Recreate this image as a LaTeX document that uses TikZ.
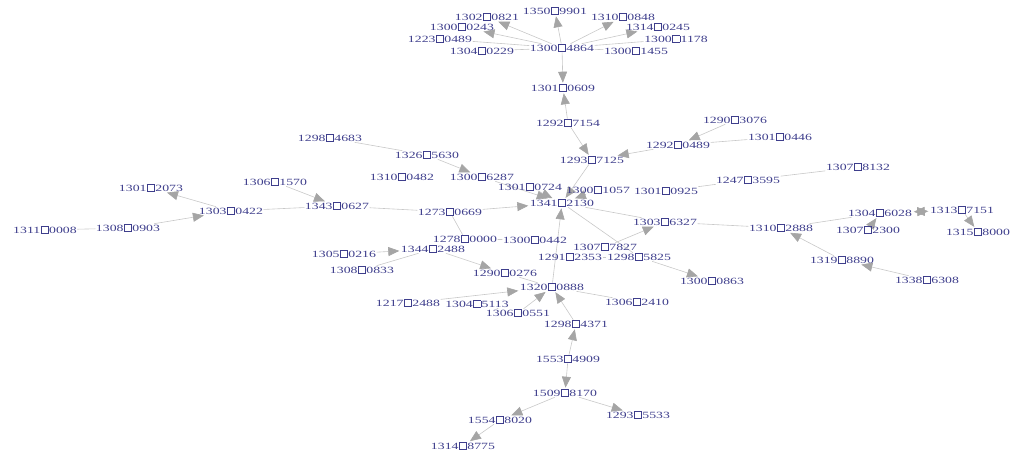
\documentclass[tikz,border=0pt]{standalone}
\usepackage{fontspec}
\setmainfont{Liberation Serif}
\usetikzlibrary{arrows.meta,backgrounds}
\definecolor{lbltxt}{RGB}{62,62,140}
\definecolor{edgegray}{RGB}{200,200,200}
\definecolor{tipgray}{RGB}{165,165,165}
\setlength{\fboxsep}{0pt}
\setlength{\fboxrule}{0.4pt}
\newcommand{\bx}{\kern0.3pt\fbox{\phantom{0}}\kern0.3pt}
\newcommand{\lb}[2]{\scalebox{1.45}[1]{#1\bx#2}}
\begin{document}
\begin{tikzpicture}[x=1pt, y=-1pt,
  vert/.style={inner sep=0.5pt, text=lbltxt, font=\fontsize{9.5}{10}\selectfont},
  link/.style={draw=edgegray, line width=0.6pt},
  arc/.style={link, -{Triangle[length=11pt,width=9pt,color=tipgray]}, shorten >=1pt},
  biarc/.style={link, {Triangle[length=11pt,width=9pt,color=tipgray]}-{Triangle[length=11pt,width=9pt,color=tipgray]}, shorten >=1pt, shorten <=1pt}]
\path[use as bounding box] (0,0) rectangle (1011,450);

% top star
\node[vert] (t0) at (562,48) {\lb{1300}{4864}};
\node[vert] (t1) at (555,11) {\lb{1350}{9901}};
\node[vert] (t2) at (487,17) {\lb{1302}{0821}};
\node[vert] (t3) at (623,17) {\lb{1310}{0848}};
\node[vert] (t4) at (462,27) {\lb{1300}{0243}};
\node[vert] (t5) at (658,27) {\lb{1314}{0245}};
\node[vert] (t6) at (440,39) {\lb{1223}{0489}};
\node[vert] (t7) at (676,39) {\lb{1300}{1178}};
\node[vert] (t8) at (482,51) {\lb{1304}{0229}};
\node[vert] (t9) at (636,51) {\lb{1300}{1455}};
\node[vert] (m1) at (563,88) {\lb{1301}{0609}};
\node[vert] (m2) at (568,123) {\lb{1292}{7154}};
\node[vert] (m3) at (592,160) {\lb{1293}{7125}};
\node[vert] (r1) at (735,120) {\lb{1290}{3076}};
\node[vert] (r2) at (780,137) {\lb{1301}{0446}};
\node[vert] (r3) at (678,145) {\lb{1292}{0489}};

% left arm
\node[vert] (l1) at (330,138) {\lb{1298}{4683}};
\node[vert] (l2) at (427,155) {\lb{1326}{5630}};
\node[vert] (l3) at (402,177) {\lb{1310}{0482}};
\node[vert] (l4) at (482,177) {\lb{1300}{6287}};
\node[vert] (w1) at (151,188) {\lb{1301}{2073}};
\node[vert] (w2) at (275,182) {\lb{1306}{1570}};
\node[vert] (w3) at (231,211) {\lb{1303}{0422}};
\node[vert] (w4) at (337,206) {\lb{1343}{0627}};
\node[vert] (w5) at (45,230) {\lb{1311}{0008}};
\node[vert] (w6) at (128,228) {\lb{1308}{0903}};
\node[vert] (a1) at (450,212) {\lb{1273}{0669}};

% hub
\node[vert] (h) at (562,203) {\lb{1341}{2130}};
\node[vert] (c1) at (530,187) {\lb{1301}{0724}};
\node[vert] (c2) at (598,190) {\lb{1300}{1057}};
\node[vert] (c3) at (666,191) {\lb{1301}{0925}};
\node[vert] (e1) at (748,180) {\lb{1247}{3595}};
\node[vert] (e2) at (858,167) {\lb{1307}{8132}};
\node[vert] (a2) at (665,222) {\lb{1303}{6327}};

% below hub
\node[vert] (b1) at (465,239) {\lb{1278}{0000}};
\node[vert] (b2) at (535,240) {\lb{1300}{0442}};
\node[vert] (b3) at (433,249) {\lb{1344}{2488}};
\node[vert] (b4) at (605,247) {\lb{1307}{7827}};
\node[vert] (b5) at (344,254) {\lb{1305}{0216}};
\node[vert] (b6) at (362,270) {\lb{1308}{0833}};
\node[vert] (b7) at (570,257) {\lb{1291}{2353}};
\node[vert] (b8) at (639,257) {\lb{1298}{5825}};
\node[vert] (b9) at (505,273) {\lb{1290}{0276}};
\node[vert] (k0) at (712,281) {\lb{1300}{0863}};

% lower star
\node[vert] (s0) at (552,287) {\lb{1320}{0888}};
\node[vert] (s1) at (637,302) {\lb{1306}{2410}};
\node[vert] (s2) at (408,303) {\lb{1217}{2488}};
\node[vert] (s3) at (477,304) {\lb{1304}{5113}};
\node[vert] (s4) at (518,313) {\lb{1306}{0551}};
\node[vert] (s5) at (576,324) {\lb{1298}{4371}};
\node[vert] (s6) at (568,359) {\lb{1553}{4909}};
\node[vert] (s7) at (565,393) {\lb{1509}{8170}};
\node[vert] (s8) at (638,415) {\lb{1293}{5533}};
\node[vert] (s9) at (500,420) {\lb{1554}{8020}};
\node[vert] (s10) at (463,446) {\lb{1314}{8775}};

% right arm
\node[vert] (q1) at (781,228) {\lb{1310}{2888}};
\node[vert] (q2) at (880,213) {\lb{1304}{6028}};
\node[vert] (q3) at (868,230) {\lb{1307}{2300}};
\node[vert] (q4) at (962,210) {\lb{1313}{7151}};
\node[vert] (q5) at (978,232) {\lb{1315}{8000}};
\node[vert] (q6) at (842,260) {\lb{1319}{8890}};
\node[vert] (q7) at (927,280) {\lb{1338}{6308}};

\begin{pgfonlayer}{background}
\draw[arc] (t0) -- (t1); \draw[arc] (t0) -- (t2); \draw[arc] (t0) -- (t3);
\draw[arc] (t0) -- (t4); \draw[arc] (t0) -- (t5);
\draw[link] (t0) -- (t6); \draw[link] (t0) -- (t7);
\draw[link] (t0) -- (t8); \draw[link] (t0) -- (t9);
\draw[arc] (t0) -- (m1); % down
\draw[arc] (m2) -- (m1); % up
\draw[arc] (m2) -- (m3);
\draw[arc] (r3) -- (m3);
\draw[arc] (r1) -- (r3);
\draw[link] (r2) -- (r3);
\draw[arc] (m3) -- (h);
\draw[link] (l1) -- (l2);
\draw[arc] (l2) -- (l4);
\draw[arc] (l4) -- (h);
\draw[arc] (w3) -- (w1);
\draw[arc] (w6) -- (w3);
\draw[link] (w5) -- (w6);
\draw[arc] (w2) -- (w4);
\draw[link] (w3) -- (w4);
\draw[link] (w4) -- (a1);
\draw[arc] (a1) -- (h);
\draw[link] (a1) -- (b1);
\draw[arc] (b5) -- (b3);
\draw[link] (b6) -- (b3);
\draw[arc] (b3) -- (b9);
\draw[link] (b1) -- (b2);
\draw[arc] (c1) -- (h); \draw[arc] (c2) -- (h);
\draw[link] (c3) -- (e1); \draw[link] (e1) -- (e2);
\draw[link] (h) -- (a2);
\draw[link] (a2) -- (q1);
\draw[arc] (b4) -- (a2);
\draw[link] (h) -- (b8);
\draw[link] (b7) -- (b8);
\draw[arc] (b8) -- (k0);
\draw[arc] (s0) -- (h);
\draw[link] (b9) -- (s0);
\draw[arc] (s2) -- (s0);
\draw[link] (s3) -- (s4);
\draw[arc] (s4) -- (s0);
\draw[arc] (s5) -- (s0);
\draw[link] (s1) -- (s0);
\draw[arc] (s6) -- (s5);
\draw[arc] (s6) -- (s7);
\draw[arc] (s7) -- (s8);
\draw[arc] (s7) -- (s9);
\draw[arc] (s9) -- (s10);
\draw[arc] (q6) -- (q1);
\draw[arc] (q7) -- (q6);
\draw[link] (q1) -- (q2);
\draw[arc] (q3) -- (q2);
\draw[biarc] (q2) -- (q4);
\draw[arc] (q4) -- (q5);
\end{pgfonlayer}
\end{tikzpicture}
\end{document}
